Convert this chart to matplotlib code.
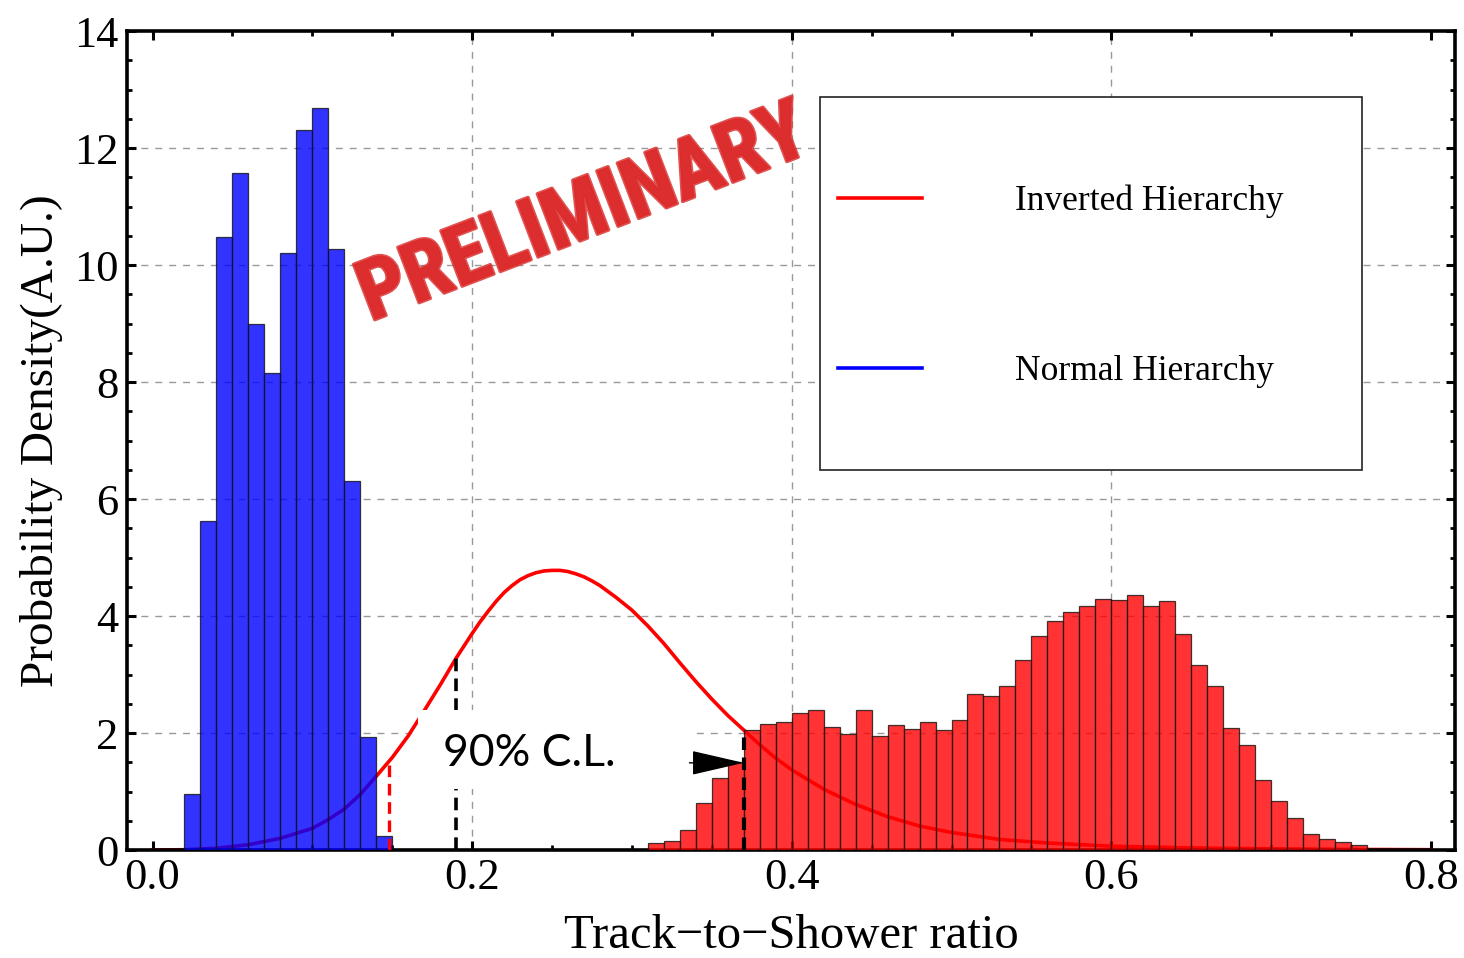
import matplotlib
matplotlib.use("Agg")
import matplotlib.pyplot as plt
from matplotlib import font_manager
from matplotlib.patches import Rectangle
from matplotlib.ticker import MultipleLocator, FormatStrFormatter
import matplotlib.patheffects as pe

# ---- data ----
bin_width = 0.01

# Normal Hierarchy histogram (left edges, heights)
nh_edges = [0.02, 0.03, 0.04, 0.05, 0.06, 0.07, 0.08, 0.09, 0.10, 0.11, 0.12, 0.13, 0.14]
nh_heights = [0.95, 5.62, 10.48, 11.58, 9.0, 8.15, 10.2, 12.31, 12.68, 10.27, 6.31, 1.94, 0.24]

# Inverted Hierarchy histogram (left edges, heights)
ih_edges = [0.31, 0.32, 0.33, 0.34, 0.35, 0.36, 0.37, 0.38, 0.39, 0.40,
            0.41, 0.42, 0.43, 0.44, 0.45, 0.46, 0.47, 0.48, 0.49, 0.50,
            0.51, 0.52, 0.53, 0.54, 0.55, 0.56, 0.57, 0.58, 0.59, 0.60,
            0.61, 0.62, 0.63, 0.64, 0.65, 0.66, 0.67, 0.68, 0.69, 0.70,
            0.71, 0.72, 0.73, 0.74, 0.75]
ih_heights = [0.12, 0.16, 0.35, 0.81, 1.23, 1.50, 2.05, 2.15, 2.18, 2.34,
              2.39, 2.10, 1.98, 2.40, 1.95, 2.13, 2.07, 2.19, 2.05, 2.23,
              2.66, 2.63, 2.81, 3.25, 3.66, 3.92, 4.06, 4.17, 4.29, 4.27,
              4.36, 4.17, 4.25, 3.69, 3.16, 2.80, 2.09, 1.79, 1.20, 0.83,
              0.55, 0.27, 0.19, 0.14, 0.08]

# expected distribution curve (red line)
curve_x = [0.0, 0.02, 0.04, 0.06, 0.08, 0.10, 0.11, 0.12, 0.13, 0.14,
           0.15, 0.16, 0.17, 0.18, 0.19, 0.20, 0.205, 0.21, 0.215, 0.22,
           0.225, 0.23, 0.235, 0.24, 0.245, 0.25, 0.255, 0.26, 0.265, 0.27,
           0.275, 0.28, 0.29, 0.30, 0.31, 0.32, 0.33, 0.34,
           0.35, 0.36, 0.37, 0.38, 0.39, 0.40, 0.42, 0.44, 0.46, 0.48,
           0.50, 0.53, 0.56, 0.60, 0.65, 0.70, 0.75, 0.80]
curve_y = [0.0, 0.005, 0.03, 0.09, 0.2, 0.37, 0.52, 0.7, 0.95, 1.26,
           1.58, 1.95, 2.38, 2.82, 3.28, 3.70, 3.90, 4.08, 4.25, 4.40,
           4.52, 4.62, 4.69, 4.74, 4.77, 4.78, 4.78, 4.76, 4.72, 4.67,
           4.60, 4.52, 4.32, 4.10, 3.83, 3.53, 3.20, 2.88,
           2.58, 2.30, 2.05, 1.80, 1.57, 1.37, 1.04, 0.78, 0.57, 0.41,
           0.30, 0.18, 0.12, 0.065, 0.035, 0.02, 0.01, 0.005]

# confidence level markers
cl_red_x, cl_red_y = 0.148, 1.50
cl_mid_x, cl_mid_y = 0.19, 3.28
cl_up_x, cl_up_y = 0.37, 2.05
arrow_y = 1.49

grid_x = [0.2, 0.4, 0.6]
grid_y = [2, 4, 6, 8, 10, 12]

# pick a narrow bold face for the stamp if there is one
names = {f.name for f in font_manager.fontManager.ttflist}
stamp_font = "DejaVu Sans"
for cand in ["Roboto Condensed", "Liberation Sans Narrow", "Open Sans Condensed"]:
    if cand in names:
        stamp_font = cand
        break
has_cond = stamp_font != "DejaVu Sans" or any(
    f.name == "DejaVu Sans" and f.stretch == "condensed" for f in font_manager.fontManager.ttflist)
stamp_size = 60 if has_cond else 50

# ---- figure ----
plt.rcParams["font.family"] = ["Liberation Serif", "DejaVu Serif"]
fig = plt.figure(figsize=(14.64, 9.58), dpi=100)
ax = fig.add_axes([0.08675, 0.11273, 0.90710, 0.85491])

for gx in grid_x:
    ax.axvline(gx, color="#999999", lw=1.0, ls=(0, (5, 5)), zorder=0.5)
for gy in grid_y:
    ax.axhline(gy, color="#999999", lw=1.0, ls=(0, (5, 5)), zorder=0.5)

ax.plot(curve_x, curve_y, color="#ff0000", lw=2.6, zorder=2)

ax.bar(nh_edges, nh_heights, width=bin_width, align="edge", color="#0000ff",
       alpha=0.8, edgecolor="#111111", linewidth=0.9, zorder=3)
ax.bar(ih_edges, ih_heights, width=bin_width, align="edge", color="#ff0000",
       alpha=0.8, edgecolor="#111111", linewidth=0.9, zorder=3)

ax.plot([cl_red_x, cl_red_x], [0, cl_red_y], color="#ff0000", lw=2.4,
        ls=(0, (3.5, 2)), zorder=4)
ax.plot([cl_mid_x, cl_mid_x], [0, cl_mid_y], color="black", lw=2.6,
        ls=(0, (3.5, 2)), zorder=4)
ax.plot([cl_up_x, cl_up_x], [0, cl_up_y], color="black", lw=3.0,
        ls=(0, (3, 1.8)), zorder=4)

# white patch behind the C.L. label
ax.add_patch(Rectangle((0.166, 1.05), 0.1735, 1.35, facecolor="white",
                       edgecolor="none", zorder=4.5))
ax.text(0.236, 1.65, "90% C.L.", family=["Lato", "DejaVu Sans"], fontsize=32,
        ha="center", va="center", zorder=5)
ax.annotate("", xy=(cl_up_x, arrow_y), xytext=(0.336, arrow_y),
            arrowprops=dict(arrowstyle="-|>,head_length=1.3,head_width=0.3",
                            color="black", lw=1.0, mutation_scale=26,
                            shrinkA=0, shrinkB=0), zorder=6)

ax.text(0.270, 10.85, "PRELIMINARY", rotation=21, ha="center", va="center",
        family=[stamp_font, "DejaVu Sans"], fontweight="bold", fontstretch="condensed",
        fontsize=stamp_size, color="#dc2a2a", alpha=0.85, zorder=3.5,
        path_effects=[pe.withStroke(linewidth=2.5, foreground=(0.86, 0.2, 0.2, 0.5))])

# legend drawn as a boxed panel
ax.add_patch(Rectangle((0.5218, 0.464), 0.4082, 0.4554, transform=ax.transAxes,
                       facecolor="white", edgecolor="#222222", lw=1.2, zorder=6))
ax.plot([0.5354, 0.5986], [0.796, 0.796], transform=ax.transAxes,
        color="#ff0000", lw=2.6, zorder=7)
ax.plot([0.5354, 0.5986], [0.5885, 0.5885], transform=ax.transAxes,
        color="#0000ff", lw=2.6, zorder=7)
ax.text(0.6687, 0.792, "Inverted Hierarchy", transform=ax.transAxes,
        fontsize=25.5, va="center", zorder=7)
ax.text(0.6687, 0.584, "Normal Hierarchy", transform=ax.transAxes,
        fontsize=25.5, va="center", zorder=7)

ax.set_xlim(-0.01596, 0.81508)
ax.set_ylim(0, 14)
ax.xaxis.set_major_locator(MultipleLocator(0.2))
ax.xaxis.set_minor_locator(MultipleLocator(0.05))
ax.yaxis.set_major_locator(MultipleLocator(2))
ax.yaxis.set_minor_locator(MultipleLocator(0.5))
ax.xaxis.set_major_formatter(FormatStrFormatter("%.1f"))

ax.tick_params(which="both", direction="in", top=True, right=True,
               labelsize=32, colors="black")
ax.tick_params(which="major", length=6.5, width=2.2, pad=6)
ax.tick_params(which="minor", length=3.5, width=2.0)
for s in ax.spines.values():
    s.set_linewidth(2.6)

ax.set_xlabel("Track\u2212to\u2212Shower ratio", fontsize=35, labelpad=11)
ax.set_ylabel("Probability Density(A.U.)", fontsize=34, labelpad=8)

fig.savefig("out.png", dpi=100)
